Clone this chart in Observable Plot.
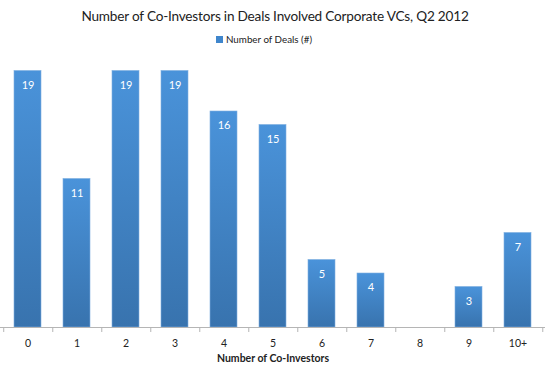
<!DOCTYPE html>
<html><head><meta charset="utf-8">
<script src="https://cdn.jsdelivr.net/npm/d3@7"></script>
<script src="https://cdn.jsdelivr.net/npm/@observablehq/plot@0.6"></script>
<style>
body{margin:0;background:#fff;font-family:Lato,"Open Sans",sans-serif;}
#title{height:30px;line-height:33px;text-align:center;font-size:13.6px;letter-spacing:-0.2px;color:#222;}
#legend{height:18px;display:flex;justify-content:center;align-items:center;font-size:9.8px;color:#222;padding-right:22px;}
#legend span.sw{display:inline-block;width:7px;height:7px;background:#3f86cc;margin-right:3px;}
svg{display:block;}
</style></head>
<body>
<div id="title">Number of Co-Investors in Deals Involved Corporate VCs, Q2 2012</div>
<div id="legend"><span class="sw"></span>Number of Deals (#)</div>
<div id="chart"></div>
<script>
const categories = ["0","1","2","3","4","5","6","7","8","9","10+"];
const deals = [19, 11, 19, 19, 16, 15, 5, 4, 0, 3, 7];
const xTitle = "Number of Co-Investors";

const data = categories.map((c, i) => ({cat: c, value: deals[i]}));
const W = 550, mL = 0, mR = 5;
const step = (W - mL - mR) / categories.length;

const defs = () => {
  const g = d3.create("svg:defs");
  const lg = g.append("linearGradient").attr("id", "barGrad").attr("x1", 0).attr("y1", 0).attr("x2", 0).attr("y2", 1);
  lg.append("stop").attr("offset", "0%").attr("stop-color", "#4a93da");
  lg.append("stop").attr("offset", "100%").attr("stop-color", "#3873ae");
  return g.node();
};

const chart = Plot.plot({
  width: W,
  height: 317,
  marginLeft: mL,
  marginRight: mR,
  marginTop: 9,
  marginBottom: 38,
  style: {fontFamily: "Lato, 'Open Sans', sans-serif", fontSize: "10px", color: "#222"},
  x: {domain: categories, paddingInner: 0.45, paddingOuter: 0.2, label: null, axis: null},
  y: {domain: [0, 20], axis: null},
  marks: [
    defs,
    Plot.barY(data.filter(d => d.value > 0), {x: "cat", y: "value", fill: "url(#barGrad)", stroke: "#7fb0e0", strokeWidth: 0.6}),
    Plot.text(data.filter(d => d.value > 0), {x: "cat", y: "value", text: d => String(d.value), dy: 14, fill: "white", fontSize: 11}),
    Plot.ruleY([0], {stroke: "#b5b5b5", strokeWidth: 1}),
    Plot.ruleX(categories, {x: d => d, dx: step / 2, y1: 0, y2: 0, insetBottom: -5, stroke: "#b5b5b5"}),
    Plot.ruleX(categories.slice(0, 1), {x: d => d, dx: -step / 2 + 0.5, y1: 0, y2: 0, insetBottom: -5, stroke: "#b5b5b5"}),
    Plot.axisX({tickSize: 0, tickPadding: 12, fontSize: 10.5, label: null}),
    Plot.text([xTitle], {frameAnchor: "bottom", dy: 34, text: d => d, fontWeight: "bold", fontSize: 10.5})
  ]
});
document.getElementById("chart").append(chart);
</script>
</body></html>
